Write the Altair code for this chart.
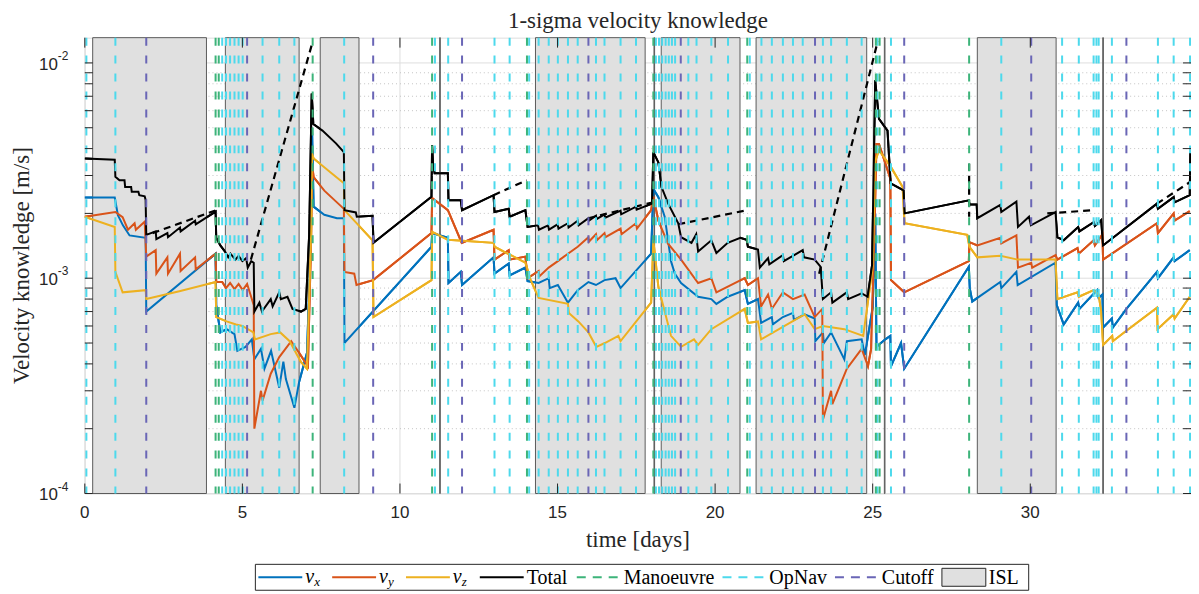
import math
import altair as alt
import pandas as pd

# ---------------- data ----------------
X_MAX = 35.1
Y_MIN = 1e-4
Y_MAX = 1.31e-2

VX = [
    (0.00, 2.37e-3), (0.95, 2.37e-3), (1.05, 1.96e-3), (1.21, 1.76e-3), (1.42, 1.58e-3), (1.93, 1.54e-3),
    (1.95, 7.0e-4), (4.15, 1.30e-3),
    (4.17, 7.5e-4), (4.30, 5.6e-4), (4.50, 5.8e-4), (4.75, 5.5e-4), (4.84, 4.6e-4), (5.10, 4.8e-4), (5.30, 5.2e-4),
    (5.38, 4.2e-4), (5.59, 4.7e-4), (5.70, 3.8e-4), (5.91, 4.6e-4), (6.17, 3.1e-4), (6.30, 4.1e-4), (6.38, 3.4e-4),
    (6.65, 2.5e-4), (6.80, 3.3e-4), (7.05, 4.5e-4), (7.15, 1.2e-3), (7.21, 5.0e-3),
    (7.26, 2.15e-3), (7.60, 1.97e-3), (8.00, 1.90e-3), (8.22, 1.90e-3),
    (8.24, 5.0e-4), (11.00, 1.40e-3), (11.02, 1.62e-3), (11.52, 1.54e-3), (11.54, 9.5e-4), (11.93, 1.07e-3),
    (11.97, 9.3e-4), (12.97, 1.25e-3), (13.00, 1.05e-3), (13.45, 1.17e-3), (13.48, 1.03e-3), (13.98, 1.12e-3),
    (14.05, 9.7e-4), (14.40, 9.5e-4), (14.72, 1.0e-3), (14.75, 9.0e-4), (15.01, 9.3e-4), (15.33, 7.7e-4),
    (15.64, 8.8e-4), (15.98, 9.6e-4), (16.22, 9.3e-4), (16.49, 9.8e-4), (16.84, 1.0e-3), (17.00, 9.0e-4),
    (17.97, 1.30e-3),
    (18.04, 2.6e-3), (18.20, 2.38e-3), (18.40, 1.93e-3), (18.60, 1.20e-3), (18.72, 1.05e-3), (18.92, 9.5e-4),
    (19.46, 8.2e-4), (19.88, 8.0e-4), (20.04, 7.6e-4), (20.40, 8.2e-4), (20.94, 8.8e-4), (21.04, 7.6e-4),
    (21.36, 8.0e-4), (21.46, 6.2e-4), (21.80, 6.6e-4), (21.83, 6.1e-4), (22.15, 6.6e-4), (22.47, 6.9e-4),
    (22.50, 6.4e-4), (22.84, 6.8e-4), (23.16, 6.5e-4), (23.18, 5.1e-4), (23.42, 5.6e-4), (23.45, 5.0e-4),
    (23.68, 5.6e-4), (24.10, 4.2e-4), (24.18, 5.1e-4), (24.65, 5.2e-4), (24.75, 4.4e-4), (25.00, 7.3e-4),
    (25.08, 2.0e-3),
    (25.12, 4.8e-4), (25.40, 5.2e-4), (25.56, 5.4e-4), (25.58, 3.9e-4), (25.90, 5.0e-4), (26.00, 3.8e-4),
    (28.05, 1.13e-3), (28.08, 9.0e-4), (28.16, 7.8e-4), (29.05, 9.6e-4), (29.08, 9.0e-4), (29.56, 1.07e-3),
    (29.60, 9.3e-4), (30.80, 1.18e-3), (30.84, 7.5e-4), (31.06, 6.1e-4), (31.52, 7.7e-4), (31.56, 7.2e-4),
    (32.12, 8.8e-4), (32.17, 8.1e-4), (32.29, 8.4e-4), (32.31, 5.9e-4), (32.59, 6.5e-4), (32.62, 5.9e-4),
    (33.05, 7.2e-4), (34.02, 1.07e-3), (34.05, 1.0e-3), (34.55, 1.25e-3), (34.58, 1.2e-3), (35.06, 1.35e-3),
]

VY = [
    (0.00, 1.93e-3), (0.97, 2.03e-3), (1.20, 1.92e-3), (1.37, 1.68e-3), (1.58, 1.80e-3), (1.62, 1.68e-3),
    (1.90, 1.83e-3),
    (1.95, 1.26e-3), (2.25, 1.35e-3), (2.27, 1.05e-3), (2.62, 1.25e-3), (2.64, 1.05e-3), (3.02, 1.30e-3),
    (3.04, 1.08e-3), (3.50, 1.25e-3), (3.52, 1.10e-3), (4.15, 1.30e-3),
    (4.17, 9.6e-4), (4.36, 9.6e-4), (4.48, 9.0e-4), (4.61, 9.5e-4), (4.75, 8.9e-4), (4.88, 9.4e-4),
    (5.01, 8.8e-4), (5.15, 9.4e-4), (5.30, 8.0e-4), (5.36, 7.5e-4),
    (5.38, 2.0e-4), (5.59, 3.0e-4), (5.64, 2.7e-4), (5.90, 3.6e-4), (6.17, 4.3e-4), (6.55, 5.1e-4),
    (6.80, 4.5e-4), (7.08, 3.9e-4), (7.18, 1.5e-3), (7.21, 3.4e-3),
    (7.26, 2.95e-3), (7.60, 2.55e-3), (8.00, 2.25e-3), (8.22, 2.10e-3),
    (8.24, 1.07e-3), (8.55, 1.05e-3), (8.62, 9.3e-4), (9.15, 9.8e-4), (11.00, 1.62e-3), (11.02, 2.36e-3),
    (11.52, 2.07e-3), (11.96, 1.46e-3), (12.97, 1.68e-3), (13.00, 1.22e-3), (13.45, 1.35e-3), (13.48, 1.22e-3),
    (13.98, 1.26e-3), (14.05, 1.0e-3),
    (14.40, 1.08e-3), (14.42, 1.02e-3), (14.72, 1.12e-3), (15.01, 1.20e-3), (15.33, 1.30e-3), (15.64, 1.40e-3),
    (15.98, 1.55e-3), (16.00, 1.48e-3), (16.22, 1.60e-3), (16.25, 1.50e-3), (16.49, 1.62e-3), (16.52, 1.55e-3),
    (17.00, 1.70e-3), (17.03, 1.60e-3), (17.49, 1.80e-3), (17.52, 1.70e-3), (17.97, 2.07e-3),
    (18.04, 2.4e-3), (18.20, 1.85e-3), (18.50, 1.45e-3), (18.92, 1.22e-3), (19.46, 9.5e-4), (19.88, 1.0e-3),
    (20.04, 8.6e-4), (20.94, 1.0e-3), (21.04, 9.3e-4), (21.36, 1.0e-3),
    (21.46, 7.4e-4), (21.68, 8.4e-4), (21.80, 7.2e-4), (22.15, 8.6e-4), (22.47, 8.0e-4), (22.84, 8.4e-4),
    (23.16, 6.6e-4), (23.40, 7.2e-4),
    (23.42, 2.2e-4), (23.68, 3.0e-4), (23.72, 2.6e-4), (24.18, 3.8e-4), (24.65, 4.7e-4), (24.85, 3.9e-4),
    (24.95, 4.7e-4), (25.05, 1.5e-3), (25.12, 4.2e-3), (25.20, 4.2e-3), (25.56, 2.9e-3),
    (25.58, 9.8e-4), (26.00, 8.6e-4), (28.05, 1.20e-3), (28.07, 1.47e-3), (28.32, 1.42e-3), (29.05, 1.54e-3),
    (29.08, 1.45e-3), (29.56, 1.58e-3), (29.61, 1.12e-3), (30.03, 1.18e-3), (30.06, 1.12e-3), (30.80, 1.28e-3),
    (30.86, 1.22e-3), (31.50, 1.38e-3), (31.54, 1.30e-3), (32.01, 1.50e-3), (32.05, 1.42e-3), (32.29, 1.60e-3),
    (32.31, 1.22e-3), (34.02, 1.80e-3), (34.05, 1.62e-3), (34.55, 2.0e-3), (34.58, 1.85e-3), (35.06, 2.05e-3),
]

VZ = [
    (0.00, 1.93e-3), (0.95, 1.73e-3), (0.97, 1.07e-3), (1.20, 8.6e-4), (1.93, 8.8e-4), (1.95, 8.0e-4),
    (3.00, 8.7e-4), (4.15, 9.6e-4),
    (4.17, 6.6e-4), (4.50, 6.3e-4), (4.80, 6.1e-4), (5.00, 6.0e-4), (5.35, 5.6e-4), (5.40, 5.2e-4),
    (5.90, 5.5e-4), (6.20, 5.6e-4), (6.50, 5.1e-4), (6.85, 4.1e-4), (7.05, 3.8e-4), (7.18, 1.6e-3),
    (7.21, 3.8e-3),
    (7.26, 3.6e-3), (7.80, 3.1e-3), (8.22, 2.76e-3), (8.24, 2.07e-3), (9.13, 1.50e-3), (9.16, 6.6e-4),
    (11.00, 9.8e-4), (11.02, 1.64e-3), (11.52, 1.51e-3), (12.97, 1.46e-3), (13.00, 1.40e-3), (13.98, 1.18e-3),
    (14.15, 9.8e-4), (14.40, 8.1e-4), (15.33, 7.6e-4), (15.36, 6.9e-4), (15.66, 6.3e-4), (15.98, 5.6e-4),
    (16.23, 4.8e-4), (16.50, 5.0e-4), (16.93, 5.4e-4), (17.00, 5.1e-4), (17.97, 7.7e-4),
    (18.04, 1.5e-3), (18.20, 9.1e-4), (18.60, 5.4e-4), (18.92, 4.8e-4), (19.33, 5.2e-4), (19.46, 4.9e-4),
    (19.88, 5.8e-4), (20.94, 7.2e-4), (21.04, 6.2e-4), (21.36, 6.3e-4), (21.46, 5.2e-4), (22.84, 6.8e-4),
    (23.16, 5.8e-4), (23.42, 6.0e-4), (24.10, 5.8e-4), (24.70, 5.4e-4), (25.00, 1.13e-3), (25.08, 3.5e-3),
    (25.20, 3.93e-3), (25.58, 3.28e-3), (25.95, 2.65e-3), (26.01, 1.80e-3), (28.00, 1.59e-3), (28.07, 1.40e-3),
    (28.32, 1.25e-3), (29.05, 1.27e-3), (29.60, 1.22e-3), (30.80, 1.22e-3), (30.86, 8.0e-4), (31.50, 8.6e-4),
    (31.54, 8.2e-4), (32.01, 8.8e-4), (32.17, 8.4e-4), (32.25, 7.0e-4), (32.31, 4.9e-4), (32.60, 5.4e-4),
    (32.62, 5.1e-4), (33.05, 5.7e-4), (34.02, 7.3e-4), (34.04, 5.8e-4), (34.55, 6.8e-4), (34.58, 6.5e-4),
    (35.06, 8.2e-4),
]

TOTAL = [
    (0.00, 3.60e-3), (0.95, 3.55e-3), (0.97, 2.96e-3), (1.10, 2.85e-3), (1.26, 2.85e-3), (1.28, 2.65e-3),
    (1.47, 2.65e-3), (1.49, 2.52e-3), (1.70, 2.52e-3), (1.73, 2.43e-3), (1.90, 2.40e-3), (1.93, 2.31e-3),
    (1.95, 1.59e-3), (2.25, 1.65e-3), (2.27, 1.52e-3), (2.62, 1.62e-3), (2.64, 1.55e-3), (3.02, 1.72e-3),
    (3.04, 1.65e-3), (3.50, 1.85e-3), (3.52, 1.78e-3), (4.15, 2.04e-3),
    (4.17, 1.54e-3), (4.30, 1.42e-3), (4.45, 1.33e-3), (4.55, 1.25e-3), (4.62, 1.30e-3), (4.78, 1.22e-3),
    (4.88, 1.27e-3), (5.00, 1.20e-3), (5.12, 1.24e-3), (5.17, 1.12e-3), (5.28, 1.20e-3), (5.36, 1.18e-3),
    (5.38, 7.0e-4), (5.54, 7.7e-4), (5.62, 7.0e-4), (5.90, 8.0e-4), (5.96, 7.4e-4), (6.17, 8.6e-4),
    (6.22, 8.0e-4), (6.43, 8.2e-4), (6.59, 7.2e-4), (6.86, 7.0e-4), (7.01, 7.2e-4),
    (7.12, 1.6e-3), (7.20, 7.2e-3), (7.23, 6.0e-3), (7.25, 5.2e-3), (7.54, 4.85e-3), (7.97, 4.23e-3),
    (8.22, 3.85e-3),
    (8.24, 2.07e-3), (8.60, 2.02e-3), (8.63, 1.93e-3), (9.13, 1.95e-3), (9.16, 1.46e-3), (11.00, 2.39e-3),
    (11.02, 4.14e-3), (11.05, 3.40e-3), (11.10, 3.07e-3), (11.52, 3.07e-3), (11.54, 2.30e-3), (11.93, 2.30e-3),
    (11.97, 2.07e-3), (12.97, 2.43e-3), (13.00, 2.03e-3), (13.45, 2.10e-3), (13.48, 1.93e-3), (13.98, 2.07e-3),
    (14.05, 1.73e-3),
    (14.38, 1.76e-3), (14.41, 1.68e-3), (14.70, 1.76e-3), (14.73, 1.68e-3), (15.00, 1.78e-3), (15.03, 1.70e-3),
    (15.33, 1.80e-3), (15.35, 1.72e-3), (15.64, 1.85e-3), (15.67, 1.76e-3), (15.98, 1.90e-3),
    (16.00, 1.85e-3), (16.22, 1.95e-3), (16.24, 1.88e-3), (16.49, 1.98e-3), (16.51, 1.91e-3), (17.00, 2.06e-3),
    (17.02, 1.98e-3), (17.49, 2.15e-3), (17.51, 2.08e-3), (18.00, 2.22e-3),
    (18.04, 3.85e-3), (18.20, 3.45e-3), (18.30, 2.65e-3), (18.51, 2.22e-3), (18.83, 1.80e-3), (18.92, 1.55e-3),
    (19.25, 1.46e-3), (19.40, 1.60e-3), (19.46, 1.33e-3), (19.88, 1.50e-3), (20.04, 1.31e-3), (20.40, 1.46e-3),
    (20.80, 1.54e-3), (21.00, 1.51e-3), (21.04, 1.40e-3), (21.36, 1.36e-3),
    (21.42, 1.12e-3), (21.68, 1.24e-3), (21.72, 1.16e-3), (22.15, 1.28e-3), (22.18, 1.20e-3), (22.78, 1.35e-3),
    (22.82, 1.25e-3), (23.16, 1.22e-3), (23.35, 1.13e-3),
    (23.42, 8.0e-4), (23.68, 8.6e-4), (23.72, 7.7e-4), (24.18, 8.6e-4), (24.22, 8.0e-4), (24.65, 8.5e-4),
    (24.84, 8.2e-4), (24.98, 1.15e-3), (25.08, 8.3e-3), (25.15, 6.5e-3), (25.20, 5.5e-3), (25.47, 4.85e-3),
    (25.57, 2.76e-3), (25.98, 2.56e-3), (26.01, 2.0e-3), (28.05, 2.30e-3),
    (28.07, 2.20e-3), (28.30, 2.20e-3), (28.32, 1.90e-3), (29.05, 2.19e-3), (29.08, 2.03e-3), (29.56, 2.27e-3),
    (29.61, 1.73e-3), (29.96, 1.93e-3), (30.02, 1.76e-3), (30.80, 2.03e-3), (30.86, 1.55e-3), (31.06, 1.50e-3),
    (31.52, 1.73e-3), (31.56, 1.65e-3), (32.01, 1.82e-3), (32.05, 1.75e-3), (32.25, 1.86e-3), (32.31, 1.42e-3),
    (34.02, 2.22e-3), (34.05, 2.10e-3), (34.55, 2.38e-3), (34.58, 2.25e-3), (35.06, 2.43e-3), (35.08, 3.85e-3),
]

# dashed black segments (predicted growth without measurements)
PREDICTED = [
    [(2.15, 1.62e-3), (4.17, 2.07e-3)],
    [(5.27, 1.22e-3), (7.22, 1.24e-2)],
    [(12.97, 2.43e-3), (14.02, 2.85e-3)],
    [(15.98, 1.90e-3), (17.97, 2.24e-3)],
    [(18.83, 1.78e-3), (21.01, 2.07e-3)],
    [(23.30, 1.05e-3), (25.16, 1.26e-2)],
    [(30.54, 2.00e-3), (32.01, 2.07e-3)],
    [(34.02, 2.22e-3), (35.06, 2.79e-3)],
    [(28.06, 3.40e-3), (28.06, 1.93e-3)],
]

ISL = [(0.25, 3.86), (4.46, 6.80), (7.47, 8.70), (11.26, 11.28), (14.30, 17.78), (18.06, 18.08),
       (18.29, 20.79), (21.30, 24.81), (25.37, 25.39), (28.32, 30.82), (32.30, 32.32)]

MANOEUVRE = [4.15, 4.25, 7.23, 11.02, 14.03, 18.04, 21.02, 25.10, 25.22, 28.06]
OPNAV = [0.05, 0.97, 4.36, 4.48, 4.61, 4.75, 4.88, 5.01, 5.64, 6.17, 6.65, 8.23, 11.11, 11.53, 13.00,
         13.48, 14.10, 14.40, 14.72, 15.01, 15.33, 15.64, 16.22, 16.49, 17.00, 17.49, 18.12, 18.22, 18.32,
         18.43, 18.53, 18.63, 18.73, 19.15, 19.41, 19.88, 20.41, 21.10, 21.47, 21.80, 22.15, 22.47, 22.78,
         23.42, 23.68, 24.18, 24.65, 25.15, 25.58, 29.08, 31.01, 31.54, 32.01, 32.10, 32.17, 32.59, 34.05,
         34.55, 35.07]
CUTOFF = [1.95, 5.15, 9.15, 11.97, 15.98, 18.91, 23.17, 26.00, 30.03, 33.05]

X_TICKS = [0, 5, 10, 15, 20, 25, 30]
X_LABELS = ["0", "5", "10", "15", "20", "25", "30"]
Y_MAJOR = [1e-4, 1e-3, 1e-2]
Y_MINOR = [k * m for m in (1e-4, 1e-3) for k in range(2, 10)]
Y_EXP = ["-4", "-3", "-2"]

X_TITLE = "time [days]"
Y_TITLE = "Velocity knowledge [m/s]"
LEGEND = [("v", "x", "line"), ("v", "y", "line"), ("v", "z", "line"), ("Total", "", "line"),
          ("Manoeuvre", "", "dash"), ("OpNav", "", "dash"), ("Cutoff", "", "dash"), ("ISL", "", "rect")]

# ---------------- styles ----------------
BLUE, ORANGE, YELLOW, BLACK = "#0072BD", "#D95319", "#EDB120", "#000000"
GREEN, CYAN, PURPLE = "#3DB47A", "#4DD9EC", "#6A66B6"
ISL_FILL, ISL_EDGE = "#E0E0E0", "#5A5A5A"
AXIS_C = "#262626"
SERIF, SANS = "Liberation Serif", "Liberation Sans"
W, H = 1109, 457

xs = alt.Scale(domain=[0, X_MAX], nice=False, zero=False)
ys = alt.Scale(type="log", domain=[Y_MIN, Y_MAX], nice=False)
XN = lambda f: alt.X(f, type="quantitative", scale=xs, axis=None)
YN = lambda f: alt.Y(f, type="quantitative", scale=ys, axis=None)

L0, L1 = math.log10(Y_MIN), math.log10(Y_MAX)


def to_day(px):
    return px / W * X_MAX


def to_val(py):
    return 10 ** (L1 - py / H * (L1 - L0))


def series_frame(name, pts, color, seg=0):
    return pd.DataFrame({"t": [p[0] for p in pts], "v": [p[1] for p in pts],
                         "s": name, "seg": f"{name}{seg}", "col": color,
                         "i": list(range(len(pts)))})


curves = pd.concat([series_frame("vx", VX, BLUE), series_frame("vy", VY, ORANGE),
                    series_frame("vz", VZ, YELLOW), series_frame("tot", TOTAL, BLACK)])
pred = pd.concat([series_frame("p", seg, BLACK, k) for k, seg in enumerate(PREDICTED)])
isl = pd.DataFrame({"a": [s for s, e in ISL], "b": [e for s, e in ISL]})
vlines = pd.DataFrame({"t": OPNAV + MANOEUVRE + CUTOFF,
                       "col": [CYAN] * len(OPNAV) + [GREEN] * len(MANOEUVRE) + [PURPLE] * len(CUTOFF)})
ymin_df = pd.DataFrame({"v": Y_MINOR})
ymaj_df = pd.DataFrame({"v": Y_MAJOR, "e": Y_EXP})
yall_df = pd.DataFrame({"v": Y_MAJOR + Y_MINOR})
xt_df = pd.DataFrame({"t": X_TICKS, "lab": X_LABELS})
titles = pd.DataFrame({"txt": [X_TITLE, Y_TITLE],
                       "x": [to_day(W / 2), to_day(-63)],
                       "y": [to_val(H + 47), to_val(H / 2)]})

x_axis = alt.Axis(values=X_TICKS, title=None, grid=False, ticks=False, labels=False, domain=False)
y_axis = alt.Axis(values=Y_MAJOR, title=None, grid=False, ticks=False, labels=False, domain=False)

x_grid = alt.Chart(xt_df).mark_rule(color="#DEDEDE", strokeWidth=1).encode(x=XN("t"))
y_grid = alt.Chart(ymaj_df).mark_rule(color="#DEDEDE", strokeWidth=1).encode(y=YN("v"))
minor_grid = alt.Chart(ymin_df).mark_rule(color="#C4C4C4", strokeDash=[1, 3], strokeWidth=1).encode(
    y=YN("v"))

isl_rects = alt.Chart(isl).mark_rect(fill=ISL_FILL, stroke=ISL_EDGE, strokeWidth=1).encode(
    x=XN("a"), x2="b:Q",
    y=alt.datum(Y_MAX, type="quantitative"), y2=alt.datum(Y_MIN))

curve_layer = alt.Chart(curves).mark_line(strokeWidth=2, strokeJoin="miter").encode(
    x=alt.X("t:Q", scale=xs, axis=x_axis), y=alt.Y("v:Q", scale=ys, axis=y_axis),
    color=alt.Color("col:N", scale=None), detail="s:N", order="i:Q")

pred_layer = alt.Chart(pred).mark_line(strokeWidth=2.2, strokeDash=[7, 5], color=BLACK).encode(
    x=XN("t"), y=YN("v"), detail="seg:N", order="i:Q")

vline_layer = alt.Chart(vlines).mark_rule(strokeWidth=2, strokeDash=[8, 10]).encode(
    x=XN("t"), color=alt.Color("col:N", scale=None))

tick_l = alt.Chart(yall_df).mark_rule(color=AXIS_C).encode(y=YN("v"), x=alt.value(0), x2=alt.value(8))
tick_r = alt.Chart(yall_df).mark_rule(color=AXIS_C).encode(y=YN("v"), x=alt.value(W - 8), x2=alt.value(W))
tick_b = alt.Chart(xt_df).mark_rule(color=AXIS_C).encode(x=XN("t"), y=alt.value(H - 10), y2=alt.value(H))
tick_t = alt.Chart(xt_df).mark_rule(color=AXIS_C).encode(x=XN("t"), y=alt.value(0), y2=alt.value(10))

ylab_base = alt.Chart(ymaj_df).encode(y=YN("v"))
ylab10 = ylab_base.mark_text(align="right", baseline="middle", font=SANS, fontSize=17,
                             color=AXIS_C, dy=2).encode(x=alt.value(-27), text=alt.value("10"))
ylabexp = ylab_base.mark_text(align="left", baseline="middle", font=SANS, fontSize=12,
                              color=AXIS_C, dy=-7).encode(x=alt.value(-27), text="e:N")
x_labels = alt.Chart(xt_df).mark_text(align="center", baseline="middle", font=SANS, fontSize=17,
                                      color=AXIS_C).encode(x=XN("t"), y=alt.value(H + 20), text="lab:N")
x_title = alt.Chart(titles.iloc[[0]]).mark_text(align="center", baseline="middle", font=SERIF,
                                                fontSize=23, color=AXIS_C).encode(
    x=XN("x"), y=YN("y"), text="txt:N")
y_title = alt.Chart(titles.iloc[[1]]).mark_text(align="center", baseline="middle", font=SERIF,
                                                fontSize=23, color=AXIS_C, angle=270).encode(
    x=XN("x"), y=YN("y"), text="txt:N")

# ---------------- legend: laid out in pixels, placed through the same scales ----------------
CHAR_W = {"T": 611, "o": 500, "t": 278, "a": 444, "l": 278, "M": 889, "n": 500, "e": 444, "u": 500,
          "v": 500, "r": 333, "O": 722, "p": 500, "N": 722, "C": 667, "f": 333, "I": 333, "S": 556,
          "L": 611}
LFS = 20
SAMPLE, GAP_T, GAP_I = 44, 3, 8
LY = H + 84
x = 174
samples, texts, subs, rects = [], [], [], []
colors = [BLUE, ORANGE, YELLOW, BLACK, GREEN, CYAN, PURPLE, ISL_FILL]
for (lab, sub, kind), col in zip(LEGEND, colors):
    if kind == "rect":
        rects.append({"x0": to_day(x), "x1": to_day(x + SAMPLE), "y0": to_val(LY - 9), "y1": to_val(LY + 9)})
    else:
        samples.append({"x0": to_day(x), "x1": to_day(x + SAMPLE), "y": to_val(LY), "col": col,
                        "dash": kind == "dash"})
    tx = x + SAMPLE + GAP_T
    if sub:
        texts.append({"x": to_day(tx), "y": to_val(LY), "txt": lab, "it": True})
        subs.append({"x": to_day(tx + 9), "y": to_val(LY), "txt": sub})
        tw = 19
    else:
        texts.append({"x": to_day(tx), "y": to_val(LY), "txt": lab, "it": False})
        tw = sum(CHAR_W[c] for c in lab) * LFS / 1000
    x = tx + tw + GAP_I
box = pd.DataFrame({"x0": [to_day(171)], "x1": [to_day(x + 2)], "y0": [to_val(LY - 13)],
                    "y1": [to_val(LY + 13)]})
samples = pd.DataFrame(samples)
texts = pd.DataFrame(texts)
subs = pd.DataFrame(subs)
rects = pd.DataFrame(rects)

leg_box = alt.Chart(box).mark_rect(fill="white", stroke=AXIS_C, strokeWidth=1).encode(
    x=XN("x0"), x2="x1:Q", y=YN("y0"), y2="y1:Q")
leg_solid = alt.Chart(samples[~samples["dash"]]).mark_rule(strokeWidth=2).encode(
    x=XN("x0"), x2="x1:Q", y=YN("y"), color=alt.Color("col:N", scale=None))
leg_dash = alt.Chart(samples[samples["dash"]]).mark_rule(strokeWidth=2, strokeDash=[9, 7]).encode(
    x=XN("x0"), x2="x1:Q", y=YN("y"), color=alt.Color("col:N", scale=None))
leg_rect = alt.Chart(rects).mark_rect(fill=ISL_FILL, stroke=AXIS_C, strokeWidth=1).encode(
    x=XN("x0"), x2="x1:Q", y=YN("y0"), y2="y1:Q")
leg_text = alt.Chart(texts[~texts["it"]]).mark_text(align="left", baseline="middle", font=SERIF,
                                                    fontSize=LFS, color="#000000", dy=1).encode(
    x=XN("x"), y=YN("y"), text="txt:N")
leg_v = alt.Chart(texts[texts["it"]]).mark_text(align="left", baseline="middle", font=SERIF,
                                                fontSize=LFS, fontStyle="italic", color="#000000").encode(
    x=XN("x"), y=YN("y"), text="txt:N")
leg_sub = alt.Chart(subs).mark_text(align="left", baseline="middle", font=SERIF, fontSize=13,
                                    fontStyle="italic", color="#000000", dy=5).encode(
    x=XN("x"), y=YN("y"), text="txt:N")

chart = alt.layer(
    curve_layer, x_grid, y_grid, minor_grid, isl_rects, curve_layer, pred_layer, vline_layer,
    tick_l, tick_r, tick_b, tick_t, ylab10, ylabexp, x_labels, x_title, y_title,
    leg_box, leg_solid, leg_dash, leg_rect, leg_text, leg_v, leg_sub,
).properties(
    width=W, height=H,
    title=alt.TitleParams("1-sigma velocity knowledge", font=SERIF, fontSize=23, fontWeight="normal",
                          color=AXIS_C, anchor="middle", offset=4),
    autosize=alt.AutoSizeParams(type="none"),
    padding={"left": 77, "top": 29, "right": 0, "bottom": 98},
).configure_view(stroke=AXIS_C, strokeWidth=1).configure(background="white")

chart.save("out.html", embed_options={"renderer": "svg", "actions": False})
